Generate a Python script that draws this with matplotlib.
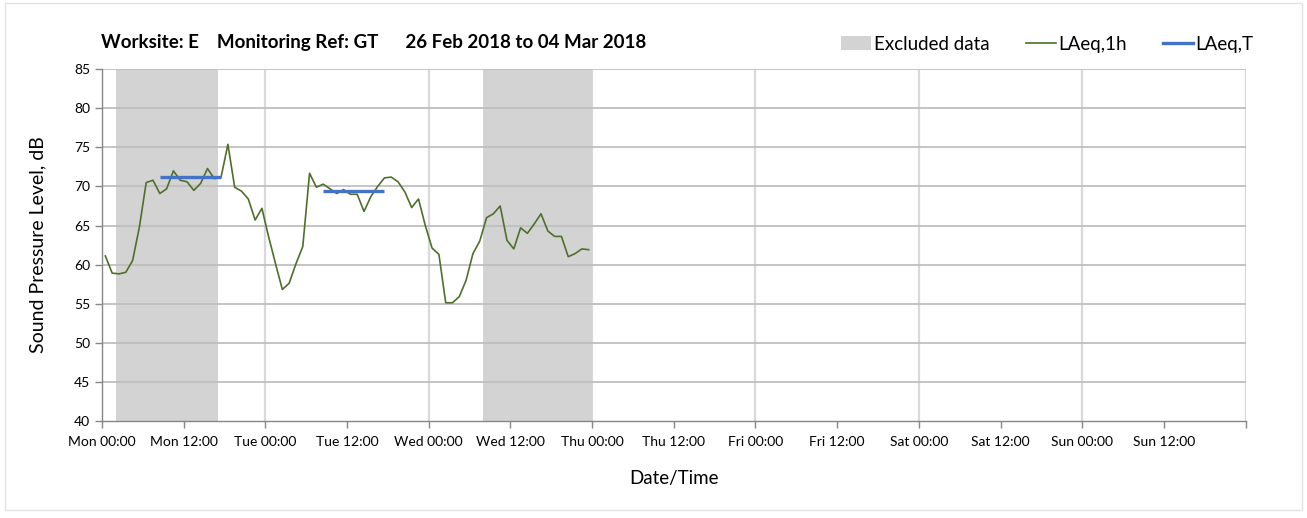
import numpy as np
import pandas as pd
import matplotlib
matplotlib.use("Agg")
import matplotlib.pyplot as plt
import matplotlib.dates as mdates
from matplotlib.patches import Patch, Rectangle
from matplotlib.lines import Line2D

# ---------------- data ----------------
title_text = "Worksite: E    Monitoring Ref: GT      26 Feb 2018 to 04 Mar 2018"
series_start = "2018-02-26 00:30"
laeq_1h = [61.1, 58.9, 58.8, 59.0, 60.5, 64.8, 70.5, 70.8, 69.1, 69.7,
           72.0, 70.8, 70.6, 69.5, 70.4, 72.3, 71.0, 71.2, 75.4, 69.9,
           69.4, 68.4, 65.7, 67.2, 63.5, 60.1, 56.8, 57.6, 60.1, 62.3,
           71.7, 69.9, 70.3, 69.7, 69.1, 69.6, 69.0, 69.0, 66.8, 68.7,
           70.0, 71.1, 71.2, 70.6, 69.3, 67.3, 68.4, 65.0, 62.1, 61.3,
           55.1, 55.1, 55.9, 58.0, 61.4, 63.0, 66.0, 66.5, 67.5, 63.1,
           62.0, 64.7, 64.0, 65.2, 66.5, 64.3, 63.6, 63.6, 61.0, 61.4,
           62.0, 61.9]
excluded_starts = ["2018-02-26 02:00", "2018-02-28 08:00"]
excluded_ends = ["2018-02-26 17:00", "2018-03-01 00:00"]
laeq_t_starts = ["2018-02-26 08:30", "2018-02-27 08:30"]
laeq_t_ends = ["2018-02-26 17:30", "2018-02-27 17:30"]
laeq_t_values = [71.2, 69.4]
x_start = "2018-02-26 00:00"
x_end = "2018-03-05 00:00"
y_ticks = [40, 45, 50, 55, 60, 65, 70, 75, 80, 85]

# ---------------- plot ----------------
plt.rcParams['font.family'] = ['Lato', 'DejaVu Sans']

times = pd.date_range(series_start, periods=len(laeq_1h), freq="h")

fig = plt.figure(figsize=(13.07, 5.18), dpi=100)
fig.patches.append(Rectangle((0.004, 0.015), 0.992, 0.98, transform=fig.transFigure,
                             fill=False, edgecolor="#E3E3E3", linewidth=1.0))
ax = fig.add_axes([0.078, 0.188, 0.875, 0.678])

for s, e in zip(excluded_starts, excluded_ends):
    ax.axvspan(pd.Timestamp(s), pd.Timestamp(e), color="#D3D3D3", lw=0, zorder=1)

ax.plot(times, laeq_1h, color="#4F6F2A", lw=1.2, zorder=3)

for s, e, v in zip(laeq_t_starts, laeq_t_ends, laeq_t_values):
    ax.plot([pd.Timestamp(s), pd.Timestamp(e)], [v, v], color="#4472C4", lw=2.4,
            solid_capstyle="butt", zorder=4)

ax.set_xlim(pd.Timestamp(x_start), pd.Timestamp(x_end))
ax.set_ylim(40, 85)
ax.set_yticks(y_ticks)

# horizontal grid
for yv in y_ticks[1:]:
    ax.axhline(yv, color="#BFBFBF", lw=1.3, zorder=2)
# vertical day grid
for d in pd.date_range(pd.Timestamp(x_start) + pd.Timedelta(days=1), pd.Timestamp(x_end), freq="D"):
    ax.axvline(d, color="#D9D9D9", lw=1.6, zorder=0.5)

ax.xaxis.set_major_locator(mdates.HourLocator(byhour=[0, 12]))
def fmt(x, pos):
    dt = mdates.num2date(x)
    if x >= mdates.date2num(pd.Timestamp(x_end)) - 1e-6:
        return ""
    return dt.strftime("%a %H:%M")
ax.xaxis.set_major_formatter(plt.FuncFormatter(fmt))

for sp in ["top", "right"]:
    ax.spines[sp].set_visible(False)
for sp in ["left", "bottom"]:
    ax.spines[sp].set_color("#868686")
    ax.spines[sp].set_linewidth(1.0)
ax.tick_params(axis="both", colors="#868686", labelcolor="black", labelsize=10,
               length=5, width=1.0, direction="out")
ax.tick_params(axis="x", pad=6)

ax.set_ylabel("Sound Pressure Level, dB", fontsize=14, labelpad=20)
ax.set_xlabel("Date/Time", fontsize=13.5, labelpad=16)

fig.text(0.077, 0.918, title_text, fontsize=13.5, fontweight="bold", va="center", ha="left")

handles = [Patch(facecolor="#D3D3D3", edgecolor="none"),
           Line2D([], [], color="#4F6F2A", lw=1.2),
           Line2D([], [], color="#4472C4", lw=2.4)]
labels = ["Excluded data", "LAeq,1h", "LAeq,T"]
fig.legend(handles, labels, loc="center right", bbox_to_anchor=(0.959, 0.915), ncol=3,
           frameon=False, fontsize=13.5, handlelength=1.6, handletextpad=0.15,
           columnspacing=1.9, borderpad=0.0, borderaxespad=0.0)

fig.savefig("out.png", dpi=100)
